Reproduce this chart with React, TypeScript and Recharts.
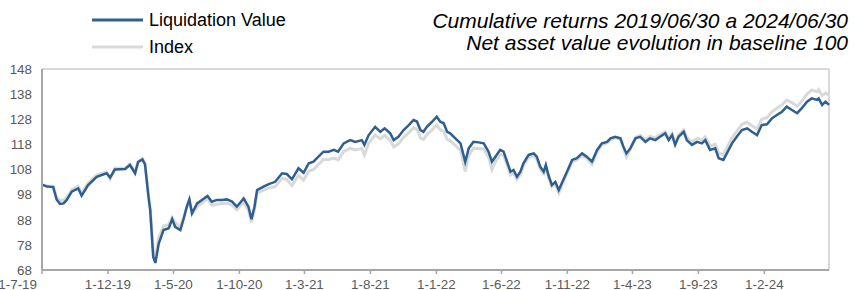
import React from 'react';
import { LineChart, Line, XAxis, YAxis, ReferenceLine } from 'recharts';

const FONT = '"Liberation Sans", Arial, sans-serif';

// sample dates
const dates = [
  '2019-07-01', '2019-07-13', '2019-07-27', '2019-08-04', '2019-08-12', '2019-08-20', '2019-08-27', '2019-09-08',
  '2019-09-23', '2019-10-01', '2019-10-16', '2019-11-05', '2019-11-28', '2019-12-06', '2019-12-17', '2020-01-10',
  '2020-01-21', '2020-02-02', '2020-02-09', '2020-02-19', '2020-02-25', '2020-03-04', '2020-03-08', '2020-03-15',
  '2020-03-20', '2020-03-28', '2020-04-08', '2020-04-20', '2020-04-28', '2020-05-05', '2020-05-17', '2020-05-25',
  '2020-06-01', '2020-06-07', '2020-06-13', '2020-06-25', '2020-07-06', '2020-07-19', '2020-07-29', '2020-08-10',
  '2020-08-22', '2020-09-02', '2020-09-14', '2020-09-25', '2020-10-11', '2020-10-22', '2020-10-29', '2020-11-05',
  '2020-11-11', '2020-11-26', '2020-12-08', '2020-12-23', '2021-01-08', '2021-01-19', '2021-01-31', '2021-02-15',
  '2021-02-27', '2021-03-11', '2021-03-22', '2021-03-30', '2021-04-14', '2021-04-26', '2021-05-08', '2021-05-18',
  '2021-05-31', '2021-06-15', '2021-06-27', '2021-07-12', '2021-07-18', '2021-07-28', '2021-08-12', '2021-08-24',
  '2021-09-03', '2021-09-16', '2021-09-24', '2021-10-05', '2021-10-17', '2021-10-29', '2021-11-09', '2021-11-17',
  '2021-11-25', '2021-12-02', '2021-12-10', '2021-12-22', '2022-01-02', '2022-01-10', '2022-01-18', '2022-01-26',
  '2022-02-02', '2022-02-14', '2022-02-26', '2022-03-09', '2022-03-17', '2022-03-28', '2022-04-09', '2022-04-21',
  '2022-05-02', '2022-05-10', '2022-05-18', '2022-05-29', '2022-06-06', '2022-06-14', '2022-06-22', '2022-06-29',
  '2022-07-07', '2022-07-15', '2022-07-22', '2022-08-03', '2022-08-15', '2022-08-22', '2022-08-30', '2022-09-07',
  '2022-09-12', '2022-09-18', '2022-09-26', '2022-10-04', '2022-10-12', '2022-10-19', '2022-10-31', '2022-11-12',
  '2022-11-23', '2022-12-05', '2022-12-16', '2022-12-28', '2023-01-09', '2023-01-20', '2023-02-01', '2023-02-09',
  '2023-02-20', '2023-03-04', '2023-03-11', '2023-03-18', '2023-03-27', '2023-04-08', '2023-04-19', '2023-05-01',
  '2023-05-12', '2023-05-24', '2023-06-04', '2023-06-16', '2023-06-24', '2023-07-02', '2023-07-09', '2023-07-17',
  '2023-07-29', '2023-08-05', '2023-08-17', '2023-08-29', '2023-09-09', '2023-09-17', '2023-09-28', '2023-10-10',
  '2023-10-18', '2023-10-29', '2023-11-06', '2023-11-18', '2023-11-29', '2023-12-11', '2023-12-23', '2024-01-03',
  '2024-01-15', '2024-01-26', '2024-02-07', '2024-02-19', '2024-03-01', '2024-03-13', '2024-03-24', '2024-04-05',
  '2024-04-17', '2024-04-28', '2024-05-10', '2024-05-21', '2024-06-02', '2024-06-06', '2024-06-14', '2024-06-22',
  '2024-06-30',
];

const liquidationValue = [
  102.0, 101.2, 101.0, 96.0, 94.3, 94.5, 95.8, 99.2,
  100.5, 97.6, 101.8, 105.1, 106.5, 104.8, 108.0, 108.2,
  109.8, 106.5, 111.0, 112.0, 110.0, 97.2, 91.9, 73.3,
  70.8, 78.6, 83.9, 84.6, 88.2, 85.2, 83.9, 88.6,
  93.2, 96.1, 90.6, 94.5, 95.9, 97.5, 95.2, 95.9,
  95.9, 96.1, 95.2, 93.2, 96.5, 93.2, 88.2, 93.2,
  99.8, 101.2, 102.2, 103.1, 106.5, 106.2, 104.1, 108.5,
  106.7, 110.5, 111.1, 112.5, 115.1, 115.1, 115.8, 115.1,
  118.4, 119.7, 119.0, 119.7, 117.8, 121.7, 125.0, 123.0,
  124.4, 122.4, 119.7, 121.0, 123.7, 125.7, 127.7, 127.1,
  123.7, 123.0, 125.0, 127.0, 129.0, 127.0, 126.4, 123.0,
  122.4, 120.4, 118.4, 111.1, 116.4, 119.0, 118.8, 118.4,
  115.1, 111.1, 113.1, 115.8, 115.1, 111.1, 107.1, 107.8,
  105.1, 107.1, 110.5, 113.8, 114.4, 113.1, 109.1, 107.1,
  109.8, 105.8, 101.8, 103.1, 99.8, 102.5, 107.1, 111.8,
  112.5, 114.4, 113.1, 111.1, 115.8, 118.4, 119.0, 120.4,
  121.0, 120.4, 117.1, 114.4, 116.4, 120.4, 121.0, 119.0,
  120.4, 119.7, 121.0, 122.4, 119.7, 121.7, 117.8, 121.0,
  123.0, 119.7, 117.8, 119.0, 118.4, 119.7, 115.8, 116.4,
  112.5, 111.8, 114.4, 118.4, 121.0, 123.7, 124.4, 123.0,
  121.7, 125.7, 126.0, 128.4, 129.7, 131.0, 133.0, 131.7,
  130.4, 132.4, 135.0, 136.3, 135.7, 136.3, 133.7, 135.0,
  133.7,
];

const indexValue = [
  101.8, 101.4, 101.3, 97.0, 95.6, 95.8, 96.8, 100.0,
  101.3, 98.5, 102.5, 105.8, 107.0, 104.2, 108.5, 108.6,
  110.2, 106.8, 111.2, 112.3, 110.5, 98.0, 93.0, 76.0,
  72.5, 81.0, 85.5, 86.0, 88.8, 86.8, 85.3, 89.0,
  93.0, 95.5, 90.2, 93.2, 94.6, 96.3, 93.8, 94.2,
  94.5, 94.6, 93.8, 92.0, 95.0, 91.8, 87.0, 92.0,
  98.6, 99.8, 100.6, 101.2, 104.5, 104.0, 101.6, 105.6,
  103.8, 107.4, 108.0, 109.4, 112.0, 112.0, 112.5, 111.8,
  115.2, 116.4, 115.8, 116.4, 113.8, 118.5, 121.8, 120.2,
  121.6, 119.6, 117.0, 118.2, 120.8, 122.7, 124.6, 124.0,
  120.6, 120.0, 121.8, 123.8, 125.7, 123.8, 123.2, 120.0,
  119.5, 117.6, 115.6, 107.2, 113.6, 116.5, 116.4, 116.2,
  113.0, 108.0, 111.0, 114.0, 113.6, 109.8, 105.8, 106.5,
  104.2, 106.0, 109.6, 112.8, 113.4, 112.2, 108.2, 106.4,
  109.2, 105.0, 101.0, 102.4, 98.6, 101.6, 106.4, 111.0,
  111.8, 113.6, 112.4, 110.0, 115.0, 117.8, 118.6, 119.8,
  120.6, 120.0, 116.4, 113.0, 116.0, 120.8, 121.6, 120.0,
  121.2, 120.6, 121.8, 123.0, 120.4, 122.3, 118.6, 121.8,
  123.8, 120.8, 119.0, 120.4, 119.8, 121.0, 117.4, 118.0,
  114.6, 113.8, 116.6, 120.6, 123.2, 126.0, 126.8, 125.4,
  124.2, 128.0, 128.6, 131.0, 132.4, 133.8, 135.6, 134.6,
  133.2, 135.2, 138.0, 139.6, 139.0, 139.8, 137.4, 138.4,
  137.6,
];

const xTickDates = [
  '2019-07-01', '2019-12-01', '2020-05-01', '2020-10-01', '2021-03-01', '2021-08-01',
  '2022-01-01', '2022-06-01', '2022-11-01', '2023-04-01', '2023-09-01', '2024-02-01',
];
const yTicks = [68, 78, 88, 98, 108, 118, 128, 138, 148];

const legendItems = [
  { name: 'Liquidation Value', color: '#2F5F8F' },
  { name: 'Index', color: '#D9D9D9' },
];

const startTs = Date.parse('2019-07-01');
const endTs = Date.parse('2024-06-30');

const data = dates.map((d, i) => ({
  t: Date.parse(d),
  liq: liquidationValue[i],
  idx: indexValue[i],
}));

const fmtDate = (v: number) => {
  const d = new Date(v);
  return `${d.getUTCDate()}-${d.getUTCMonth() + 1}-${String(d.getUTCFullYear()).slice(2)}`;
};

const XTick = (props: any) => {
  const { x, y, payload, index } = props;
  const first = index === 0;
  return (
    <text
      x={first ? x - 5 : x}
      y={y}
      dy="0.71em"
      textAnchor={first ? 'end' : 'middle'}
      fill="#595959"
      fontSize={13.4}
      fontFamily={FONT}
    >
      {fmtDate(payload.value)}
    </text>
  );
};

export default function App() {
  return (
    <div style={{ position: 'absolute', left: 0, top: 0, width: 855, height: 290, background: '#fff' }}>
      {/* legend, top left */}
      <div style={{ position: 'absolute', left: 92, top: 6, fontFamily: FONT, fontSize: 18, color: '#000', zIndex: 2 }}>
        {legendItems.map((it) => (
          <div key={it.name} style={{ display: 'flex', alignItems: 'center', height: 27 }}>
            <svg width={51} height={6} style={{ marginRight: 6 }}>
              <line x1={0} x2={51} y1={3} y2={3} stroke={it.color} strokeWidth={3} />
            </svg>
            <span style={{ position: 'relative', top: 1, whiteSpace: 'nowrap' }}>{it.name}</span>
          </div>
        ))}
      </div>
      {/* title, top right */}
      <div
        style={{
          position: 'absolute',
          right: 7,
          top: 10,
          textAlign: 'right',
          fontFamily: FONT,
          fontStyle: 'italic',
          fontSize: 21,
          lineHeight: '22px',
          color: '#000',
          zIndex: 2,
        }}
      >
        <div>Cumulative returns 2019/06/30 a 2024/06/30</div>
        <div>Net asset value evolution in baseline 100</div>
      </div>
      <LineChart width={855} height={290} data={data} margin={{ top: 69, right: 26, bottom: 0, left: 0 }}>
        <XAxis
          dataKey="t"
          type="number"
          domain={[startTs, endTs]}
          ticks={xTickDates.map((d) => Date.parse(d))}
          interval={0}
          height={20}
          tick={<XTick />}
          tickSize={4}
          tickMargin={5}
          axisLine={{ stroke: '#A6A6A6', strokeWidth: 2 }}
          tickLine={{ stroke: '#A6A6A6', strokeWidth: 1.5 }}
        />
        <YAxis
          type="number"
          domain={[68, 148]}
          ticks={yTicks}
          interval={0}
          width={42}
          tickLine={false}
          tickSize={6}
          tickMargin={4}
          axisLine={{ stroke: '#A6A6A6', strokeWidth: 2 }}
          tick={{ fill: '#595959', fontSize: 13.4, fontFamily: FONT }}
        />
        <ReferenceLine y={148} stroke="#D9D9D9" strokeWidth={2} />
        <ReferenceLine x={endTs} stroke="#D9D9D9" strokeWidth={2} />
        <Line
          type="linear"
          dataKey="idx"
          name="Index"
          stroke="#D9D9D9"
          strokeWidth={3}
          dot={false}
          isAnimationActive={false}
        />
        <Line
          type="linear"
          dataKey="liq"
          name="Liquidation Value"
          stroke="#2F5F8F"
          strokeWidth={2.5}
          dot={false}
          isAnimationActive={false}
        />
      </LineChart>
    </div>
  );
}
